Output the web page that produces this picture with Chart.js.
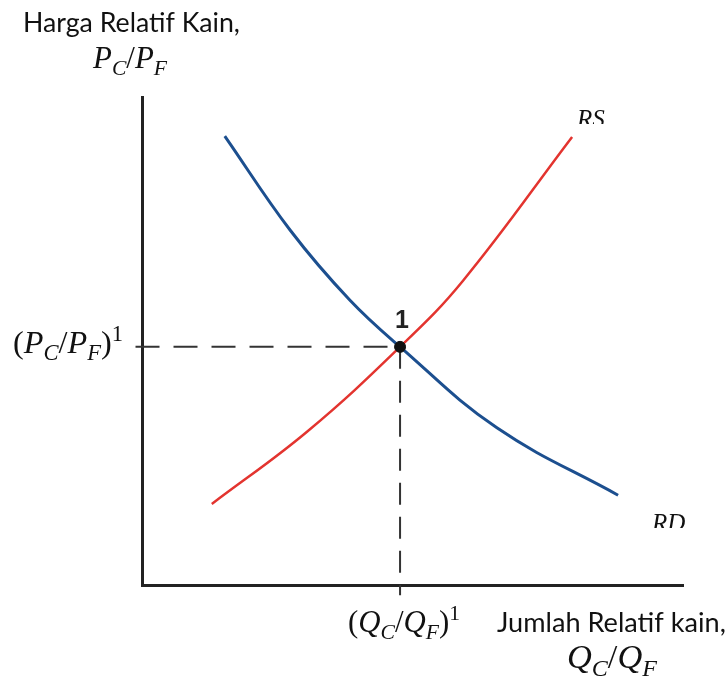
<!DOCTYPE html>
<html>
<head>
<meta charset="utf-8">
<script src="https://cdn.jsdelivr.net/npm/chart.js@4.4.1/dist/chart.umd.min.js"></script>
<style>
  html, body { margin: 0; padding: 0; background: #fff; }
  #wrap { width: 728px; height: 677px; }
</style>
</head>
<body>
<div id="wrap"><canvas id="chart" width="728" height="677"></canvas></div>
<script>
// kurva permintaan relatif (RD) dan penawaran relatif (RS), skala 0-100
var rdX = [15.3, 27.4, 38.4, 47.7, 65.6, 88.0];
var rdY = [92.0, 72.7, 58.4, 48.8, 32.2, 18.4];
var rsX = [12.9, 30.5, 47.7, 59.3, 79.5];
var rsY = [16.6, 31.4, 48.8, 62.3, 91.8];
// titik keseimbangan 1
var eqX = [47.7];
var eqY = [48.8];

function toPoints(xs, ys) {
    return xs.map(function (x, i) { return {x: x, y: ys[i]}; });
}

var SERIF = '"Liberation Serif", "DejaVu Serif", serif';
var SANS = 'Lato, "Open Sans", sans-serif';

// teks biasa, ukuran disesuaikan agar lebar = x1 - x0
function fitText(ctx, text, family, x0, x1, baseline) {
    ctx.font = '100px ' + family;
    var size = 100 * (x1 - x0) / ctx.measureText(text).width;
    ctx.font = size + 'px ' + family;
    ctx.textAlign = 'left';
    ctx.textBaseline = 'alphabetic';
    ctx.fillText(text, x0, baseline);
}

// teks matematika: [teks, jenis] jenis: 'i' miring, 'n' tegak, 'sub', 'sup'
function mathText(ctx, parts, x0, x1, baseline) {
    function fontFor(p, size) {
        if (p[1] === 'sub') return 'italic ' + (size * 0.7) + 'px ' + SERIF;
        if (p[1] === 'sup') return (size * 0.7) + 'px ' + SERIF;
        if (p[1] === 'i') return 'italic ' + size + 'px ' + SERIF;
        return size + 'px ' + SERIF;
    }
    var w = 0;
    parts.forEach(function (p) {
        ctx.font = fontFor(p, 100);
        w += ctx.measureText(p[0]).width;
    });
    var size = 100 * (x1 - x0) / w;
    var x = x0;
    ctx.textAlign = 'left';
    ctx.textBaseline = 'alphabetic';
    parts.forEach(function (p) {
        ctx.font = fontFor(p, size);
        var dy = 0;
        if (p[1] === 'sub') dy = size * 0.22;
        if (p[1] === 'sup') dy = -size * 0.38;
        ctx.fillText(p[0], x, baseline + dy);
        x += ctx.measureText(p[0]).width;
    });
}

var labelPlugin = {
    id: 'labels',
    afterDraw: function (chart) {
        var ctx = chart.ctx;
        var xs = chart.scales.x, ys = chart.scales.y;
        ctx.save();
        ctx.fillStyle = '#111';

        // judul sumbu
        fitText(ctx, 'Harga Relatif Kain,', SANS, 23, 240, 32);
        mathText(ctx, [['P', 'i'], ['C', 'sub'], ['/', 'n'], ['P', 'i'], ['F', 'sub']], 93, 167, 68);
        fitText(ctx, 'Jumlah Relatif kain,', SANS, 497, 726, 632);
        mathText(ctx, [['Q', 'i'], ['C', 'sub'], ['/', 'n'], ['Q', 'i'], ['F', 'sub']], 567, 657, 668);

        // label keseimbangan
        mathText(ctx, [['(', 'n'], ['P', 'i'], ['C', 'sub'], ['/', 'n'], ['P', 'i'], ['F', 'sub'], [')', 'n'], ['1', 'sup']], 13, 123, 353);
        mathText(ctx, [['(', 'n'], ['Q', 'i'], ['C', 'sub'], ['/', 'n'], ['Q', 'i'], ['F', 'sub'], [')', 'n'], ['1', 'sup']], 348, 460, 632);

        ctx.font = 'bold 25px "Liberation Sans", Arial, sans-serif';
        ctx.textAlign = 'center';
        ctx.fillStyle = '#222';
        ctx.fillText('1', xs.getPixelForValue(eqX[0]) + 2, ys.getPixelForValue(eqY[0]) - 19);

        // label kurva, bagian bawah terpotong seperti aslinya
        ctx.fillStyle = '#111';
        ctx.save();
        ctx.beginPath();
        ctx.rect(560, 95, 70, 29);
        ctx.clip();
        ctx.font = 'italic 25px ' + SERIF;
        ctx.textAlign = 'left';
        ctx.fillText('RS', 577, 127);
        ctx.restore();

        ctx.save();
        ctx.beginPath();
        ctx.rect(640, 500, 80, 28);
        ctx.clip();
        ctx.font = 'italic 25px ' + SERIF;
        ctx.textAlign = 'left';
        ctx.fillText('RD', 652, 531);
        ctx.restore();

        ctx.restore();
    }
};

// dataset pertama digambar paling atas
var ctx = document.getElementById('chart').getContext('2d');
var chart = new Chart(ctx, {
    type: 'scatter',
    data: {
        datasets: [
            {
                label: '1',
                data: toPoints(eqX, eqY),
                pointRadius: 5.5,
                pointBackgroundColor: '#111',
                pointBorderColor: '#111',
                clip: false
            },
            {
                label: 'RD',
                data: toPoints(rdX, rdY),
                showLine: true,
                borderColor: '#1c4f8f',
                borderWidth: 3,
                tension: 0.4,
                pointRadius: 0
            },
            {
                label: 'RS',
                data: toPoints(rsX, rsY),
                showLine: true,
                borderColor: '#e3342f',
                borderWidth: 2.5,
                tension: 0.4,
                pointRadius: 0
            },
            {
                label: 'garis putus horizontal',
                data: [{x: -1.2, y: eqY[0]}, {x: eqX[0], y: eqY[0]}],
                showLine: true,
                borderColor: '#333',
                borderWidth: 2,
                borderDash: [24, 14],
                pointRadius: 0,
                clip: false
            },
            {
                label: 'garis putus vertikal',
                data: [{x: eqX[0], y: eqY[0]}, {x: eqX[0], y: -2.1}],
                showLine: true,
                borderColor: '#333',
                borderWidth: 2,
                borderDash: [22, 12],
                pointRadius: 0,
                clip: false
            }
        ]
    },
    options: {
        responsive: false,
        animation: false,
        layout: {
            padding: {left: 134, top: 97, right: 45, bottom: 84}
        },
        scales: {
            x: {
                type: 'linear',
                min: 0,
                max: 100,
                grid: {display: false},
                ticks: {display: false},
                border: {display: true, color: '#222', width: 3}
            },
            y: {
                type: 'linear',
                min: 0,
                max: 100,
                grid: {display: false},
                ticks: {display: false},
                border: {display: true, color: '#222', width: 3}
            }
        },
        plugins: {
            legend: {display: false},
            tooltip: {enabled: false}
        }
    },
    plugins: [labelPlugin]
});
</script>
</body>
</html>
